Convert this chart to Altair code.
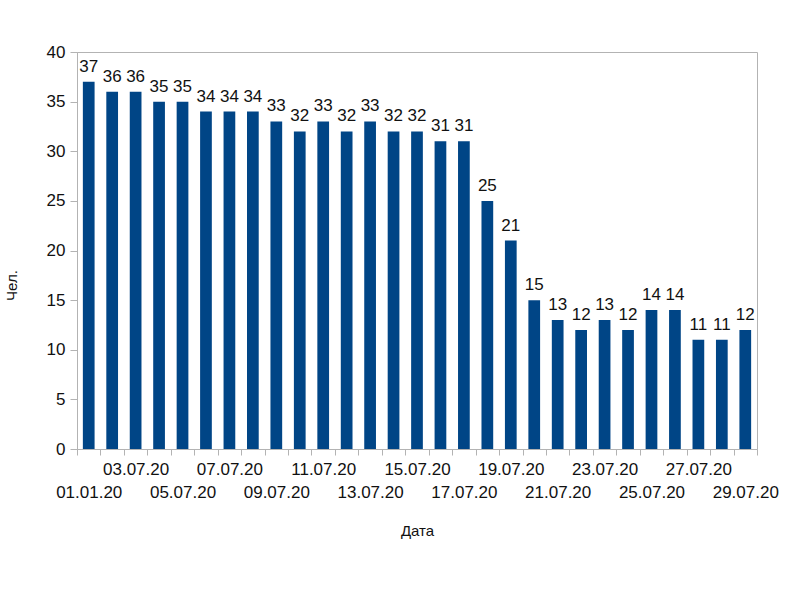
import altair as alt
import pandas as pd

dates = ["01.01.20"] + [f"{d:02d}.07.20" for d in range(2, 30)]
values = [37, 36, 36, 35, 35, 34, 34, 34, 33, 32, 33, 32, 33, 32, 32,
          31, 31, 25, 21, 15, 13, 12, 13, 12, 14, 14, 11, 11, 12]

df = pd.DataFrame({"date": dates, "value": values})

FONT = "Liberation Sans"
BAR = "#004586"
GRAY = "#b3b3b3"

label_expr = (
    "parseInt(substring(datum.label,0,2)) % 2 == 0 ? '' : "
    "(parseInt(substring(datum.label,0,2)) % 4 == 1 ? ['', datum.label] : datum.label)"
)

x = alt.X(
    "date:N",
    sort=dates,
    scale=alt.Scale(paddingInner=0, paddingOuter=0),
    axis=alt.Axis(
        title="Дата",
        labelAngle=0,
        labelExpr=label_expr,
        labelOverlap=False,
        labelFontSize=17,
        labelLineHeight=23,
        labelPadding=6,
        labelColor="#111111",
        tickBand="extent",
        tickSize=6,
        tickColor=GRAY,
        domainColor=GRAY,
        titleFontSize=15,
        titleFontWeight="normal",
        titleColor="#111111",
        titleY=81,
        titleBaseline="middle",
    ),
)

y = alt.Y(
    "value:Q",
    scale=alt.Scale(domain=[0, 40]),
    axis=alt.Axis(
        title="Чел.",
        values=[0, 5, 10, 15, 20, 25, 30, 35, 40],
        grid=False,
        labelFontSize=17,
        labelPadding=5,
        labelColor="#111111",
        tickSize=7,
        tickColor=GRAY,
        domainColor=GRAY,
        titleFontSize=15,
        titleFontWeight="normal",
        titleColor="#111111",
        titleX=-66,
        titleY=233,
        titleBaseline="middle",
        titleAlign="center",
    ),
)

base = alt.Chart(df).encode(x=x, y=y)

bars = base.mark_bar(color=BAR, width=alt.RelativeBandSize(0.5))
labels = base.mark_text(
    baseline="bottom", dy=-6, fontSize=17, font=FONT, color="#111111"
).encode(text="value:Q")

chart = (
    alt.layer(bars, labels)
    .properties(
        width=680,
        height=397,
        autosize=alt.AutoSizeParams(type="none"),
        padding={"left": 77, "top": 52, "right": 43, "bottom": 151},
        background="white",
    )
    .configure_view(stroke=GRAY, strokeWidth=1)
    .configure_axis(labelFont=FONT, titleFont=FONT)
)

chart.save("out.html", embed_options={"renderer": "svg", "actions": False})
